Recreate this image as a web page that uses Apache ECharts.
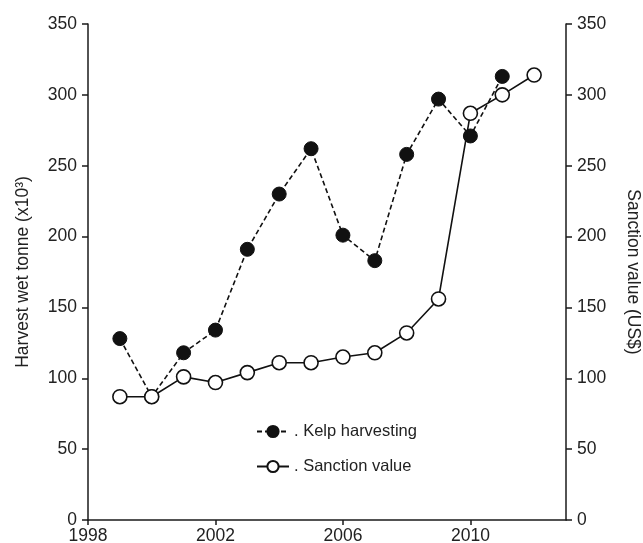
<!DOCTYPE html>
<html><head><meta charset="utf-8">
<script src="https://cdn.jsdelivr.net/npm/echarts@6/dist/echarts.min.js"></script>
<style>html,body{margin:0;padding:0;background:#fff}#c{width:643px;height:543px}</style>
</head><body><div id="c"></div>
<script>
const kelpYears = [1999,2000,2001,2002,2003,2004,2005,2006,2007,2008,2009,2010,2011];
const kelpValues = [128,87,118,134,191,230,262,201,183,258,297,271,313];
const sanctionYears = [1999,2000,2001,2002,2003,2004,2005,2006,2007,2008,2009,2010,2011,2012];
const sanctionValues = [87,87,101,97,104,111,111,115,118,132,156,287,300,314];
const xTicks = [1998,2002,2006,2010];
const seriesNames = ['Kelp harvesting','Sanction value'];

const font = 'Liberation Sans, Arial, sans-serif';
const axisCol = '#1a1a1a';
const chart = echarts.init(document.getElementById('c'));
const yAxisCommon = {
  type:'value', min:0, max:350, interval:50,
  axisLine:{show:true,lineStyle:{color:axisCol,width:1.5}},
  axisTick:{show:true,length:6,lineStyle:{color:axisCol,width:1.5}},
  splitLine:{show:false},
  axisLabel:{color:'#222',fontSize:17.5,fontFamily:font,margin:11},
  nameLocation:'middle',
  nameTextStyle:{color:'#222',fontSize:17.5,fontFamily:font}
};
chart.setOption({
  animation:false,
  backgroundColor:'#fff',
  grid:{left:88,right:77,top:24,bottom:23,containLabel:false,outerBoundsMode:'none'},
  xAxis:{
    type:'value', min:1998, max:2013, interval:4,
    axisLine:{show:true,onZero:false,lineStyle:{color:axisCol,width:1.5}},
    axisTick:{show:true,length:5,customValues:xTicks,lineStyle:{color:axisCol,width:1.5}},
    splitLine:{show:false},
    axisLabel:{color:'#222',fontSize:17.5,fontFamily:font,margin:7,customValues:xTicks,formatter:v=>String(v)}
  },
  yAxis:[
    Object.assign({}, yAxisCommon, {position:'left', name:'Harvest wet tonne (x10³)', nameRotate:90, nameGap:56}),
    Object.assign({}, yAxisCommon, {position:'right', name:'Sanction value (US$)', nameRotate:-90, nameGap:58})
  ],
  legend:{
    orient:'vertical', left:251, top:418, itemWidth:32, itemHeight:14, itemGap:18,
    textStyle:{color:'#222',fontSize:16.5,fontFamily:font},
    formatter:n=>'. '+n,
    data:seriesNames
  },
  series:[
    {
      name:seriesNames[0], type:'line', yAxisIndex:0,
      data:kelpYears.map((y,i)=>[y,kelpValues[i]]),
      symbol:'circle', symbolSize:14,
      itemStyle:{color:'#111',borderColor:'#111',borderWidth:1},
      lineStyle:{color:'#111',width:1.6,type:[5,3]},
      z:2
    },
    {
      name:seriesNames[1], type:'line', yAxisIndex:1,
      data:sanctionYears.map((y,i)=>[y,sanctionValues[i]]),
      symbol:'circle', symbolSize:14,
      itemStyle:{color:'#fff',borderColor:'#111',borderWidth:1.6},
      lineStyle:{color:'#111',width:1.6,type:'solid'},
      z:3
    }
  ]
});
</script></body></html>
